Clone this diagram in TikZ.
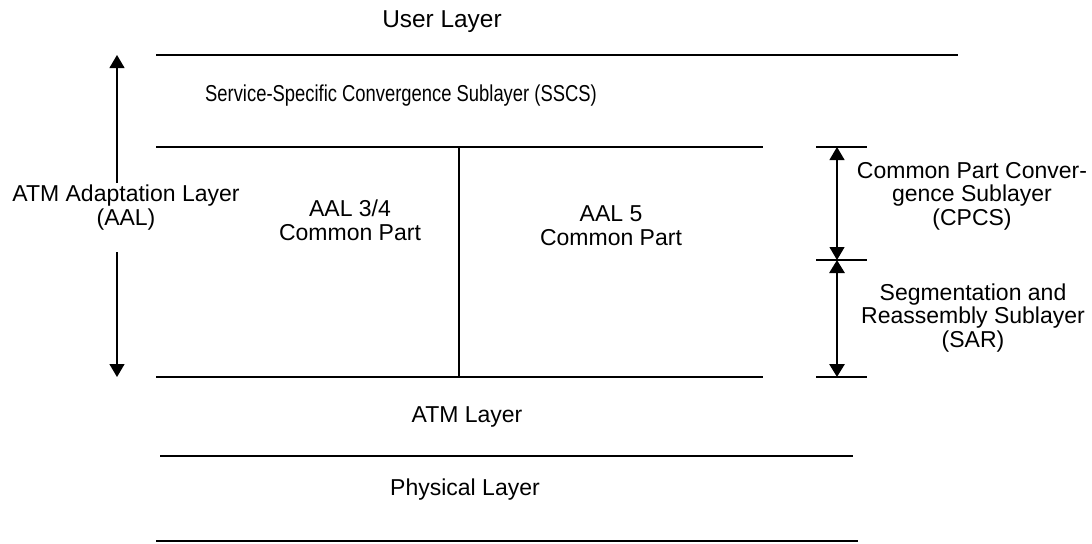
\documentclass[tikz,border=0pt]{standalone}
\usepackage{fontspec}
\setmainfont{Liberation Sans}
\newfontfamily\narrowsans[FakeStretch=0.80]{Liberation Sans}
\usetikzlibrary{arrows.meta}

\tikzset{every picture/.style={line width=0.6pt}}
\tikzset{
  lbl/.style={anchor=base, inner sep=0.5pt, align=center, font=\fontsize{11.5}{11.75}\selectfont},
  tip/.style={-{Triangle[length=6.5pt,width=7.5pt]}},
  dbl/.style={{Triangle[length=6.5pt,width=7.5pt]}-{Triangle[length=6.5pt,width=7.5pt]}}
}

\begin{document}
\begin{tikzpicture}[x=0.5pt,y=0.5pt,yscale=-1,xscale=1]
\useasboundingbox (0,0) rectangle (1092,543); %set diagram to the size of the reference

%Straight Lines [layer borders]
\draw    (156,55) -- (958,55) ;
\draw    (156,147) -- (763,147) ;
\draw    (459,147) -- (459,377) ;
\draw    (156,377) -- (763,377) ;
\draw    (160,456) -- (853,456) ;
\draw    (156,541) -- (858,541) ;

% Text Node (base = last line)
\draw (442,27) node (user) [lbl] [font=\fontsize{12.2}{12}\selectfont] {User Layer};
% Text Node
\draw (401,101) node (sscs) [lbl] [font=\narrowsans\fontsize{11.5}{12}\selectfont] {Service-Specific Convergence Sublayer (SSCS)};
% Text Node
\draw (126,225) node (aal) [lbl] {ATM Adaptation Layer\\(AAL)};
% Text Node
\draw (350,240) node (aal34) [lbl] {AAL 3/4\\Common Part};
% Text Node
\draw (611,245) node (aal5) [lbl] {AAL 5\\Common Part};
% Text Node
\draw (972,225) node (cpcs) [lbl] {Common Part Conver-\\gence Sublayer\\(CPCS)};
% Text Node
\draw (973,347) node (sar) [lbl] {Segmentation and\\Reassembly Sublayer\\(SAR)};
% Text Node
\draw (467,422) node (atm) [lbl] {ATM Layer};
% Text Node
\draw (465,495) node (phy) [lbl] {Physical Layer};

%Arrow ends
\coordinate (aaltop) at (117,55);
\coordinate (aalbot) at (117,377);
\coordinate (cp1) at (837,147);
\coordinate (cp2) at (837,260);
\coordinate (cp3) at (837,377);

%AAL span (yshift is flipped by yscale=-1)
\draw [tip] (aal.north -| aaltop) -- (aaltop) ;
\draw [tip] ([yshift=10.5pt]aal.south -| aalbot) -- (aalbot) ;

%Sublayer ticks
\draw    ([xshift=-10.5pt]cp1) -- ([xshift=15pt]cp1) ;
\draw    ([xshift=-10.5pt]cp2) -- ([xshift=15pt]cp2) ;
\draw    ([xshift=-10.5pt]cp3) -- ([xshift=15pt]cp3) ;
\draw [dbl] (cp1) -- (cp2) ;
\draw [dbl, line width=1.4pt] (cp2) -- (cp3) ;

\end{tikzpicture}
\end{document}
